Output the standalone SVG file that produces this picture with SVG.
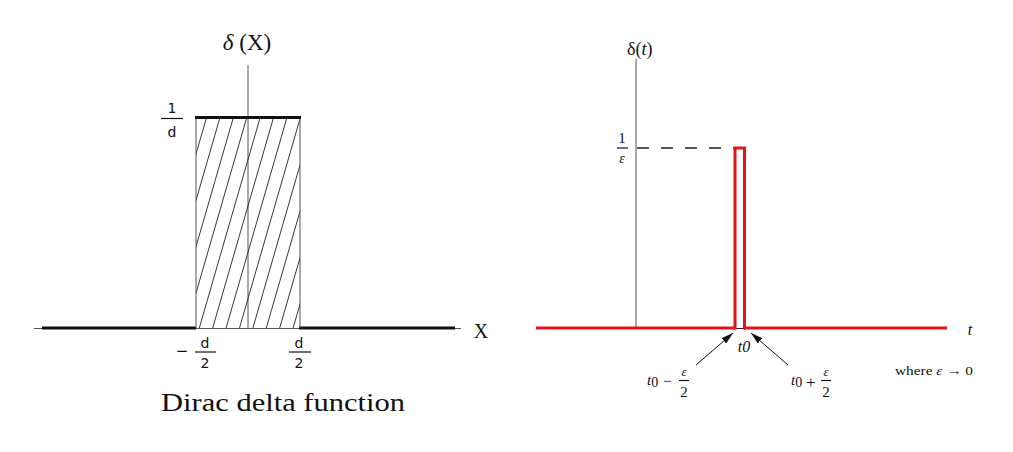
<svg xmlns="http://www.w3.org/2000/svg" width="1013" height="452" viewBox="0 0 1013 452">
<style>
.serif{font-family:"Liberation Serif","DejaVu Serif",serif;fill:#111}
.sans{font-family:"DejaVu Sans","Liberation Sans",sans-serif;fill:#111}
.thin{stroke:#555;stroke-width:1;fill:none}
.thick{stroke:#111;stroke-width:3;fill:none}
.hatch{stroke:#222;stroke-width:0.9}
.red{stroke:#e0141a;stroke-width:3;fill:none}
.frac{stroke:#111;stroke-width:1.2}
</style>
<defs>
<clipPath id="rectclip"><rect x="196" y="117" width="104" height="211"/></clipPath>
<marker id="ah" viewBox="0 0 12 7" refX="12" refY="3.5" markerWidth="12" markerHeight="7" markerUnits="userSpaceOnUse" orient="auto">
<path d="M0,0 L12,3.5 L0,7 Z" fill="#111"/>
</marker>
</defs>
<rect width="1013" height="452" fill="#fff"/>

<g id="left-plot">
<g id="left-axes">
<line class="thin" x1="34" y1="328.5" x2="461" y2="328.5"/>
<line class="thin" x1="248" y1="65" x2="248" y2="328"/>
<line class="thick" x1="42" y1="328" x2="196" y2="328"/>
<line class="thick" x1="299" y1="328" x2="455" y2="328"/>
</g>
<g id="left-box">
<g clip-path="url(#rectclip)">
<line class="hatch" x1="145.7" y1="328" x2="206.7" y2="117"/>
<line class="hatch" x1="159.1" y1="328" x2="220.1" y2="117"/>
<line class="hatch" x1="172.5" y1="328" x2="233.5" y2="117"/>
<line class="hatch" x1="185.9" y1="328" x2="246.9" y2="117"/>
<line class="hatch" x1="199.3" y1="328" x2="260.3" y2="117"/>
<line class="hatch" x1="212.7" y1="328" x2="273.7" y2="117"/>
<line class="hatch" x1="226.1" y1="328" x2="287.1" y2="117"/>
<line class="hatch" x1="239.5" y1="328" x2="300.5" y2="117"/>
<line class="hatch" x1="252.9" y1="328" x2="313.9" y2="117"/>
<line class="hatch" x1="266.3" y1="328" x2="327.3" y2="117"/>
<line class="hatch" x1="279.7" y1="328" x2="340.7" y2="117"/>
<line class="hatch" x1="293.1" y1="328" x2="354.1" y2="117"/>
</g>
<line class="thin" x1="196" y1="117" x2="196" y2="328" stroke="#222"/>
<line class="thin" x1="300" y1="117" x2="300" y2="328" stroke="#222"/>
<line class="thick" x1="195" y1="117.5" x2="301" y2="117.5"/>
</g>
<g id="left-labels">
<text class="serif" x="247" y="50" font-size="23" text-anchor="middle"><tspan font-style="italic">δ</tspan> (X)</text>
<text class="sans" x="172" y="113" font-size="14" text-anchor="middle">1</text>
<line class="frac" x1="161" y1="118.5" x2="183" y2="118.5"/>
<text class="sans" x="172" y="137" font-size="14" text-anchor="middle">d</text>
<text class="sans" x="182" y="356" font-size="15" text-anchor="middle">−</text>
<text class="sans" x="205" y="348" font-size="14" text-anchor="middle">d</text>
<line class="frac" x1="195" y1="352" x2="216" y2="352"/>
<text class="sans" x="205" y="368" font-size="14" text-anchor="middle">2</text>
<text class="sans" x="299" y="348" font-size="14" text-anchor="middle">d</text>
<line class="frac" x1="289" y1="352" x2="311" y2="352"/>
<text class="sans" x="299" y="368" font-size="14" text-anchor="middle">2</text>
<text class="serif" x="481" y="338" font-size="20" text-anchor="middle">X</text>
<text class="serif" x="161" y="411" font-size="25" textLength="244" lengthAdjust="spacingAndGlyphs">Dirac delta function</text>
</g>
</g>

<g id="right-plot">
<g id="right-axes">
<line class="thin" x1="636" y1="59" x2="636" y2="328"/>
<line x1="637" y1="148" x2="734" y2="148" stroke="#222" stroke-width="1.4" stroke-dasharray="12 12"/>
<line class="red" x1="536" y1="328" x2="735" y2="328"/>
<line class="red" x1="744" y1="328" x2="947" y2="328"/>
<line x1="736" y1="328.5" x2="744" y2="328.5" stroke="#222" stroke-width="1"/>
</g>
<g id="pulse">
<path class="red" d="M735,329.5 V148 H744.5 V329.5"/>
</g>
<g id="right-labels">
<text class="serif" x="627" y="55" font-size="18"><tspan>δ(</tspan><tspan font-style="italic">t</tspan><tspan>)</tspan></text>
<text class="serif" x="622" y="143" font-size="15" text-anchor="middle">1</text>
<line class="frac" x1="617" y1="148" x2="628" y2="148" stroke-width="0.9"/>
<text class="serif" x="622" y="163" font-size="14" text-anchor="middle" font-style="italic">ε</text>
<text class="serif" x="970" y="335" font-size="16" font-style="italic" text-anchor="middle">t</text>
<text class="serif" x="744" y="352" font-size="16" font-style="italic" text-anchor="middle">t0</text>
<text class="serif" x="647" y="385" font-size="15"><tspan font-style="italic">t</tspan><tspan font-size="14" dy="2">0</tspan></text>
<text class="serif" x="663" y="386" font-size="15">−</text>
<text class="serif" x="684" y="376" font-size="13" text-anchor="middle" font-style="italic">ε</text>
<line class="frac" x1="679" y1="380.5" x2="689" y2="380.5" stroke-width="0.9"/>
<text class="serif" x="684" y="397" font-size="15" text-anchor="middle">2</text>
<text class="serif" x="791" y="385" font-size="15"><tspan font-style="italic">t</tspan><tspan font-size="14" dy="2">0</tspan></text>
<text class="serif" x="806" y="388" font-size="17">+</text>
<text class="serif" x="826" y="376" font-size="13" text-anchor="middle" font-style="italic">ε</text>
<line class="frac" x1="821" y1="380.5" x2="831" y2="380.5" stroke-width="0.9"/>
<text class="serif" x="826" y="397" font-size="15" text-anchor="middle">2</text>
<text class="serif" x="895" y="375" font-size="13" textLength="78" lengthAdjust="spacingAndGlyphs">where <tspan font-style="italic">ε</tspan> → 0</text>
</g>
</g>

<g id="connectors">
<line x1="696" y1="365" x2="733" y2="333" stroke="#111" stroke-width="1" marker-end="url(#ah)"/>
<line x1="788" y1="365" x2="751" y2="333" stroke="#111" stroke-width="1" marker-end="url(#ah)"/>
</g>
</svg>
